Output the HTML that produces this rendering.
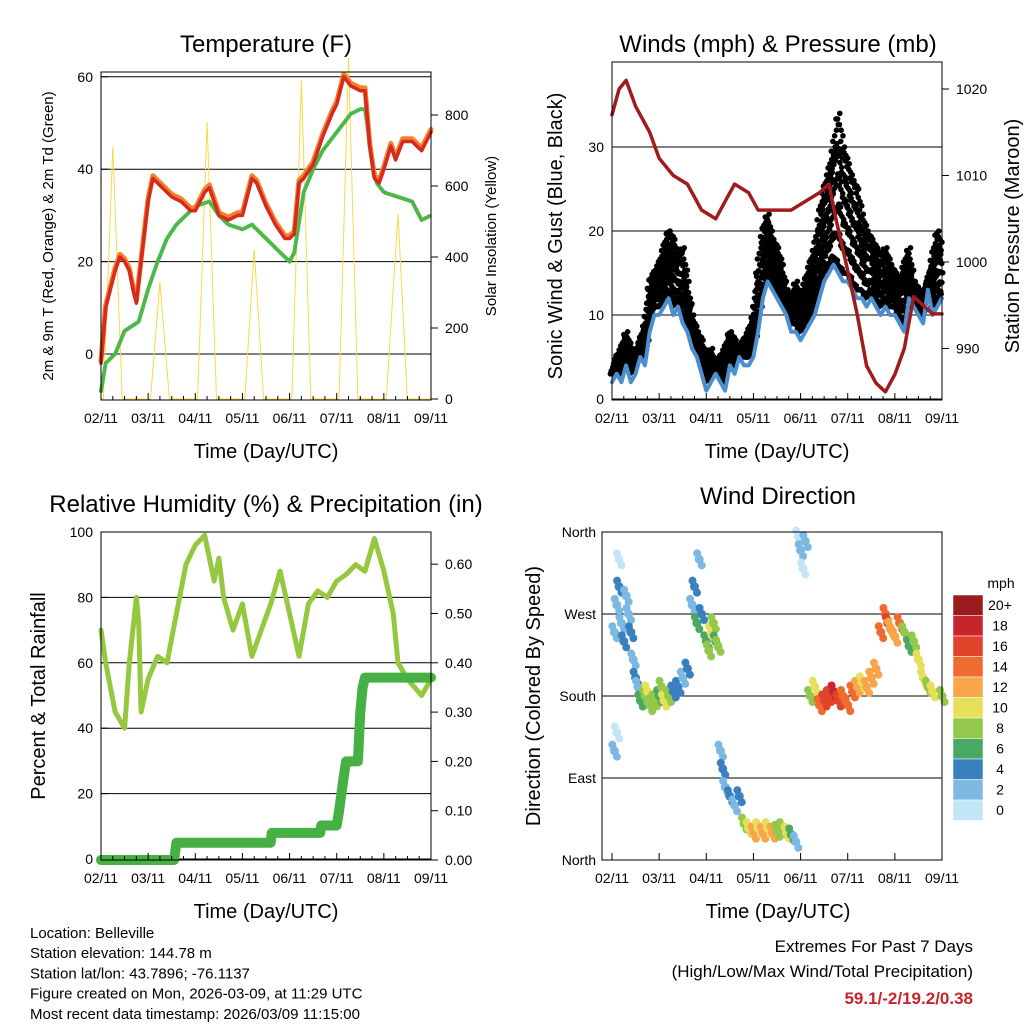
<!DOCTYPE html>
<html><head><meta charset="utf-8"><style>
html,body{margin:0;padding:0;background:#fff;}
svg{display:block;font-family:"Liberation Sans",sans-serif;}
</style></head><body>
<svg id="c" width="1024" height="1024" viewBox="0 0 1024 1024"></svg>
<script>
// ---------- DATA ----------
const dayLabels = ["02/11","03/11","04/11","05/11","06/11","07/11","08/11","09/11"];
// Temperature panel
const tempTimes = [0,0.1,0.3,0.4,0.5,0.6,0.7,0.75,0.85,1.0,1.1,1.3,1.5,1.7,1.9,2.0,2.2,2.3,2.5,2.7,2.9,3.0,3.2,3.3,3.5,3.7,3.9,4.0,4.1,4.2,4.3,4.5,4.7,4.9,5.0,5.15,5.3,5.5,5.6,5.7,5.8,5.9,6.0,6.15,6.25,6.4,6.6,6.8,7.0];
const temp2m = [-2,10,18,21,20,18,13,11,20,33,38,36,34,33,31,31,35,36,30,29,30,30,38,37,32,28,25,25,26,37,38,41,47,52,54,60,58,57,57,45,38,37,40,45,42,46,46,44,48];
const dewTimes = [0,0.1,0.3,0.5,0.8,1.0,1.2,1.4,1.6,1.8,2.0,2.3,2.5,2.7,3.0,3.2,3.5,3.8,4.0,4.1,4.3,4.5,4.7,5.0,5.3,5.5,5.6,5.75,5.85,6.0,6.3,6.6,6.8,7.0];
const dewPoint = [-8,-2,0,5,7,14,20,25,28,30,32,33,30,28,27,28,25,22,20,22,35,40,44,48,52,53,53,42,37,35,34,33,29,30];
const solarTimes = [0,0.05,0.25,0.45,1.05,1.25,1.45,2.05,2.25,2.45,3.05,3.25,3.45,4.05,4.25,4.45,5.05,5.25,5.45,6.05,6.3,6.5,7.0];
const solarVals  = [0,0,710,0,0,330,0,0,780,0,0,420,0,0,900,0,0,960,0,0,520,0,0];
const tempTicks = [0,20,40,60];
const solarTicks = [0,200,400,600,800];
// Winds panel
const windTimes = [0,0.1,0.2,0.3,0.4,0.5,0.6,0.7,0.8,0.9,1.0,1.1,1.2,1.3,1.4,1.5,1.6,1.7,1.8,1.9,2.0,2.1,2.2,2.3,2.4,2.5,2.6,2.7,2.8,2.9,3.0,3.1,3.2,3.3,3.4,3.5,3.6,3.7,3.8,3.9,4.0,4.1,4.2,4.3,4.4,4.5,4.6,4.7,4.8,4.9,5.0,5.1,5.2,5.3,5.4,5.5,5.6,5.7,5.8,5.9,6.0,6.1,6.2,6.3,6.4,6.5,6.6,6.7,6.8,6.9,7.0];
const windSpeed = [2,3,2,4,2,3,5,4,8,10,10,11,12,10,11,9,8,6,5,3,1,2,3,2,1,4,3,5,4,4,5,8,12,14,13,12,11,10,8,8,7,8,9,10,12,14,15,16,15,14,14,13,12,12,11,12,11,10,11,10,10,9,8,12,11,10,9,13,10,11,12];
const windGust = [3,5,6,8,6,5,7,9,14,15,16,18,20,19,17,18,14,10,8,7,5,6,4,5,6,8,7,6,7,8,10,16,20,22,19,18,16,13,12,14,12,14,16,18,22,25,27,30,34,30,28,26,25,22,20,19,18,17,18,16,15,14,16,18,14,13,12,14,17,20,18];
const presTimes = [0,0.15,0.3,0.5,0.8,1.0,1.3,1.6,1.9,2.2,2.4,2.6,2.9,3.1,3.4,3.8,4.1,4.4,4.6,4.75,5.0,5.2,5.4,5.6,5.8,6.0,6.2,6.4,6.6,6.8,7.0];
const pressure = [1017,1020,1021,1018,1015,1012,1010,1009,1006,1005,1007,1009,1008,1006,1006,1006,1007,1008,1009,1005,999,994,988,986,985,987,990,996,995,994,994];
const windTicks = [0,10,20,30];
const presTicks = [990,1000,1010,1020];
// RH panel
const rhTimes = [0,0.1,0.3,0.5,0.6,0.75,0.8,0.85,1.0,1.2,1.4,1.6,1.8,2.0,2.2,2.4,2.5,2.6,2.8,3.0,3.2,3.4,3.6,3.8,4.0,4.2,4.4,4.6,4.8,5.0,5.2,5.4,5.6,5.8,6.0,6.2,6.3,6.5,6.8,7.0];
const rhVals = [70,60,45,40,60,80,72,45,55,62,60,75,90,96,99,85,92,80,70,78,62,70,78,88,75,62,78,82,80,85,87,90,88,98,88,75,60,55,50,55];
const rainTimes = [0,1.55,1.6,3.6,3.62,4.65,4.67,5.0,5.05,5.15,5.2,5.45,5.5,5.55,5.6,7.0];
const rainVals = [0,0,0.035,0.035,0.055,0.055,0.07,0.07,0.1,0.17,0.2,0.2,0.3,0.35,0.37,0.37];
const rhTicks = [0,20,40,60,80,100];
const rainTicks = [0,0.1,0.2,0.3,0.4,0.5,0.6];
// Wind direction panel
const dirTimes = [0.05,0.1,0.15,0.2,0.25,0.3,0.35,0.4,0.45,0.05,0.1,0.15,0.5,0.55,0.6,0.7,0.75,0.8,0.9,1.0,1.05,1.1,1.2,1.3,1.4,1.5,1.6,1.7,1.75,1.8,1.85,1.9,2.0,2.05,2.1,2.15,2.2,2.25,2.3,2.35,2.4,2.5,2.6,2.7,2.8,2.9,3.0,3.1,3.2,3.3,3.4,3.5,3.6,3.7,3.8,3.9,3.95,4.0,4.05,4.1,4.2,4.3,4.4,4.5,4.6,4.7,4.8,4.9,5.0,5.1,5.2,5.3,5.4,5.5,5.6,5.7,5.8,5.85,5.9,6.0,6.1,6.2,6.3,6.4,6.5,6.6,6.7,6.8,7.0];
const dirDeg = [250,280,300,260,240,290,270,250,220,120,140,330,200,190,175,180,185,170,175,180,190,175,180,185,190,200,210,280,300,260,330,270,240,230,250,260,240,235,120,100,80,70,60,70,40,35,30,35,30,35,30,32,35,30,28,20,355,340,320,350,180,190,170,175,180,185,175,180,170,185,190,195,190,200,210,250,270,260,255,245,260,250,235,240,220,200,190,185,180];
const dirSpeed = [3,2,4,3,4,2,3,4,3,2,1,1,4,3,6,8,10,9,8,7,9,10,8,5,4,3,4,3,4,6,2,5,7,9,10,8,6,8,3,4,3,4,3,5,9,11,12,11,13,10,12,8,9,10,7,3,1,2,1,3,8,10,14,16,17,18,16,15,14,15,12,11,12,13,12,14,15,17,13,12,14,9,7,8,10,11,9,10,9];
const dirLabels = ["North","East","South","West","North"];
const speedLabels = ["20+","18","16","14","12","10","8","6","4","2","0"];
const speedColors = ["#9b1b1e","#c7252b","#e2432b","#f06b2f","#f8a54b","#e6df5a","#93c84d","#49a862","#3a80c0","#7cb8e2","#c2e6f8"];

// ---------- HELPERS ----------
const NS="http://www.w3.org/2000/svg";
const svg=document.getElementById('c');
function mk(tag,attrs,parent){const e=document.createElementNS(NS,tag);for(const k in attrs)e.setAttribute(k,attrs[k]);(parent||svg).appendChild(e);return e;}
function txt(x,y,s,size,anchor,rot,extra){const e=mk('text',Object.assign({x:x,y:y,'font-size':size,'text-anchor':anchor||'middle',fill:'#000'},extra||{}));if(rot)e.setAttribute('transform','rotate('+rot+' '+x+' '+y+')');e.textContent=s;return e;}
function poly(xs,ys,fx,fy,color,w){let d='';for(let i=0;i<xs.length;i++){d+=(i?'L':'M')+fx(xs[i]).toFixed(1)+','+fy(ys[i]).toFixed(1);}return mk('path',{d:d,fill:'none',stroke:color,'stroke-width':w,'stroke-linejoin':'round','stroke-linecap':'round'});}

function frame(x0,y0,x1,y1,name,fx){
  const r=mk('rect',{x:x0,y:y0,width:x1-x0,height:y1-y0,fill:'none',stroke:'#000','stroke-width':1});
  
  for(let d=0;d<=7;d++){const x=fx(d);mk('line',{x1:x,y1:y1,x2:x,y2:y1-7,stroke:'#000'});
    if(d<7)for(let m=1;m<4;m++){const xm=fx(d+m/4);mk('line',{x1:xm,y1:y1,x2:xm,y2:y1-4,stroke:'#000'});}
    const t=txt(x,y1+23,dayLabels[d],14);}
  const xt=txt((x0+x1)/2,y1+58,'Time (Day/UTC)',20);
}
function leftTicks(vals,fy,x0,x1,labels,grid){vals.forEach((v,i)=>{const y=fy(v);
  if(grid)mk('line',{x1:x0,y1:y,x2:x1,y2:y,stroke:'#000','stroke-width':1});
  mk('line',{x1:x0,y1:y,x2:x0+7,y2:y,stroke:'#000'});
  const t=txt(x0-8,y+5,labels?labels[i]:String(v),14,'end');});}
function rightTicks(vals,fy,x1,fmt){vals.forEach(v=>{const y=fy(v);mk('line',{x1:x1,y1:y,x2:x1+7,y2:y,stroke:'#000'});
  const t=txt(x1+14,y+5,fmt?fmt(v):String(v),14,'start');});}

// ---------- PANEL 1: TEMPERATURE ----------
(function(){
  const x0=101,x1=431,y0=72,y1=400;
  const fx=t=>x0+t*(x1-x0)/7, fy=v=>354-v*4.62, fs=v=>399-v*0.355;
  const title=txt(266,52,'Temperature (F)',24);
  leftTicks(tempTicks,fy,x0,x1,null,true);
  rightTicks(solarTicks,fs,x1);
  const solar=poly(solarTimes,solarVals,fx,fs,'#f7d94a',1);
  
  const dew=poly(dewTimes,dewPoint,fx,fy,'#4db848',4);dew.setAttribute('stroke-dasharray','2 2');
  
  const orange=poly(tempTimes,temp2m.map(v=>v+0.6),fx,fy,'#f5822a',5);
  
  const red=poly(tempTimes,temp2m,fx,fy,'#d42a20',3.5);
  
  frame(x0,y0,x1,y1,'temperature',fx);
  const yl=txt(53,236,'2m & 9m T (Red, Orange) & 2m Td (Green)',15,'middle',-90);
  const yr=txt(496,236,'Solar Insolation (Yellow)',15,'middle',-90);
})();

// ---------- PANEL 2: WINDS ----------
(function(){
  const x0=612,x1=942,y0=62,y1=400;
  const fx=t=>x0+t*(x1-x0)/7, fy=v=>399-v*8.4, fp=v=>262-(v-1000)*8.65;
  const title=txt(778,52,'Winds (mph) & Pressure (mb)',24);
  leftTicks(windTicks,fy,x0,x1,null,true);
  rightTicks(presTicks,fp,x1);
  const g=mk('g',{});
  const fr=[0,0.2,0.4,0.6,0.8,1];
  for(let i=0;i<windTimes.length-1;i++){for(let k=0;k<6;k++){const f=k/6;
    const t=windTimes[i]+f*(windTimes[i+1]-windTimes[i]);const v=windGust[i]+f*(windGust[i+1]-windGust[i]);const w=windSpeed[i]+f*(windSpeed[i+1]-windSpeed[i]);
    fr.forEach((q,j)=>{mk('circle',{cx:fx(t)+((j*3+k)%4)-1.5,cy:fy(w+1+q*(v-w-1)),r:2.8,fill:'#000'},g);});}}
  const ws=poly(windTimes,windSpeed,fx,fy,'#4a90d0',4);
  const pr=poly(presTimes,pressure,fx,fp,'#a01c1c',3.5);
  frame(x0,y0,x1,y1,'winds',fx);
  const yl=txt(562,236,'Sonic Wind & Gust (Blue, Black)',20,'middle',-90);
  const yr=txt(1019,236,'Station Pressure (Maroon)',20,'middle',-90);
})();

// ---------- PANEL 3: RH & PRECIP ----------
(function(){
  const x0=101,x1=431,y0=532,y1=860;
  const fx=t=>x0+t*(x1-x0)/7, fy=v=>859-v*3.27, fr=v=>860-v*493;
  const title=txt(266,512,'Relative Humidity (%) & Precipitation (in)',24);
  leftTicks(rhTicks,fy,x0,x1,null,true);
  rightTicks(rainTicks,fr,x1,v=>v.toFixed(2));
  const rh=poly(rhTimes,rhVals,fx,fy,'#95c83f',5);
  const rain=poly(rainTimes,rainVals,fx,fr,'#46b044',10);
  frame(x0,y0,x1,y1,'rh',fx);
  const yl=txt(45,696,'Percent & Total Rainfall',20,'middle',-90);
})();

// ---------- PANEL 4: WIND DIRECTION ----------
(function(){
  const x0=602,x1=942,y0=532,y1=860,tx0=612;
  const fx=t=>tx0+t*(x1-tx0)/7, fy=d=>860-d*(328/360);
  const title=txt(778,504,'Wind Direction',24);
  [90,180,270].forEach(d=>mk('line',{x1:x0,y1:fy(d),x2:x1,y2:fy(d),stroke:'#000'}));
  [0,90,180,270,360].forEach((d,i)=>{mk('line',{x1:x0,y1:fy(d),x2:x0+7,y2:fy(d),stroke:'#000'});
    const t=txt(x0-6,fy(d)+5,dirLabels[i],14,'end');});
  const g=mk('g',{});
  for(let i=0;i<dirTimes.length;i++){const c=speedColors[10-Math.min(10,Math.floor(dirSpeed[i]/2))];
    mk('circle',{cx:fx(dirTimes[i]),cy:fy(dirDeg[i]),r:4.5,fill:c},g);
    mk('circle',{cx:fx(dirTimes[i])+2.5,cy:fy(dirDeg[i])+6,r:4,fill:c},g);
    mk('circle',{cx:fx(dirTimes[i])-2,cy:fy(dirDeg[i])-6,r:4,fill:c},g);}
  const r=mk('rect',{x:x0,y:y0,width:x1-x0,height:y1-y0,fill:'none',stroke:'#000'});
  for(let d=0;d<=7;d++){const x=fx(d);mk('line',{x1:x,y1:y1,x2:x,y2:y1-7,stroke:'#000'});
    const t=txt(x,y1+23,dayLabels[d],14);}
  const xt=txt(778,918,'Time (Day/UTC)',20);
  const yl=txt(540,696,'Direction (Colored By Speed)',20,'middle',-90);
  const cb=mk('g',{});
  const bh=20.5;
  speedColors.forEach((c,i)=>{mk('rect',{x:953,y:595+i*bh,width:30,height:bh,fill:c,stroke:'#fff','stroke-width':0.5},cb);
    const t=txt(1000,610+i*bh,speedLabels[i],14);});
  const u=txt(1001,588,'mph',14);
})();

// ---------- FOOTER ----------
const info=["Location: Belleville","Station elevation: 144.78 m","Station lat/lon: 43.7896; -76.1137","Figure created on Mon, 2026-03-09, at 11:29 UTC","Most recent data timestamp: 2026/03/09 11:15:00"];
info.forEach((s,i)=>{const t=txt(30,938+i*20.2,s,15,'start');});
let e=txt(973,952,'Extremes For Past 7 Days',17,'end');
e=txt(973,977,'(High/Low/Max Wind/Total Precipitation)',17,'end');
e=txt(973,1004,'59.1/-2/19.2/0.38',17,'end',0,{fill:'#c8242a','font-weight':'bold'});
</script>
</body></html>
